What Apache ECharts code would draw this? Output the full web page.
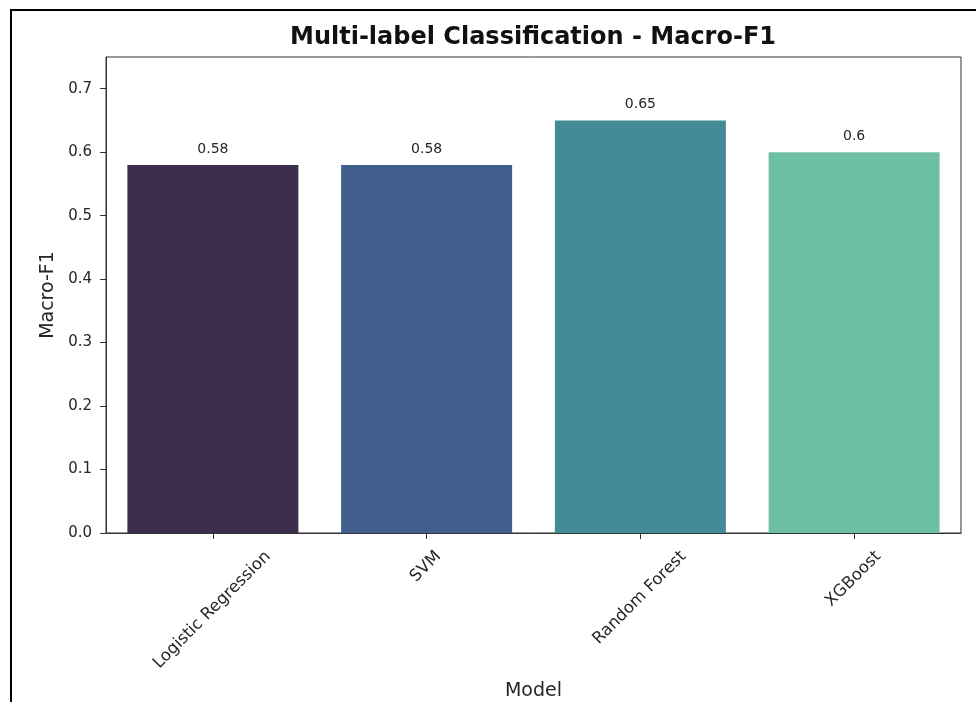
<!DOCTYPE html>
<html>
<head>
<meta charset="utf-8">
<script src="https://cdn.jsdelivr.net/npm/echarts@6/dist/echarts.min.js"></script>
<style>
  html, body { margin: 0; padding: 0; background: #ffffff; }
  #wrap { position: relative; width: 976px; height: 702px; overflow: hidden; }
  #chart { position: absolute; left: 0; top: 0; width: 976px; height: 702px; }
  #frame { position: absolute; left: 10px; top: 9px; right: -4px; bottom: -4px;
           border-left: 2px solid #000; border-top: 2px solid #000; pointer-events: none; }
</style>
</head>
<body>
<div id="wrap">
  <div id="chart"></div>
  <div id="frame"></div>
</div>
<script>
// Models compared and their macro-averaged F1 scores
const categories = ['Logistic Regression', 'SVM', 'Random Forest', 'XGBoost'];
const macroF1 = [0.58, 0.58, 0.65, 0.6];
const barColors = ['#3c2f4e', '#425e8e', '#438b96', '#6dc0a6'];
const yTicks = [0.0, 0.1, 0.2, 0.3, 0.4, 0.5, 0.6, 0.7];

const FONT = '"DejaVu Sans", sans-serif';
const XLABEL_SIZE = 16.5;
const XLABEL_H = XLABEL_SIZE * 1.17;

// Rotated category labels are centred under their ticks (box centre on the tick),
// so each label gets padding derived from its own measured width.
const ctx = document.createElement('canvas').getContext('2d');
ctx.font = XLABEL_SIZE + 'px "DejaVu Sans"';
const rich = {};
categories.forEach((c, i) => {
  const L = ctx.measureText(c).width;
  rich['c' + i] = {
    fontFamily: FONT,
    fontSize: XLABEL_SIZE,
    color: '#262626',
    padding: [Math.max(0, 0.25 * (L - XLABEL_H)), 0.5 * (L + XLABEL_H), 0, 0]
  };
});

const chart = echarts.init(document.getElementById('chart'), null, { renderer: 'canvas' });

chart.setOption({
  backgroundColor: '#ffffff',
  animation: false,
  title: {
    text: 'Multi-label Classification - Macro-F1',
    left: 528,
    top: 21,
    textAlign: 'center',
    textStyle: { fontFamily: FONT, fontSize: 24, fontWeight: 'bold', color: '#111' }
  },
  grid: {
    left: 106, right: 15, top: 57, bottom: 169,
    outerBoundsMode: 'none',
    containLabel: false,
    show: true, borderColor: '#333', borderWidth: 1, backgroundColor: 'transparent'
  },
  xAxis: {
    type: 'category',
    data: categories,
    name: 'Model',
    nameLocation: 'middle',
    nameGap: 149,
    nameTextStyle: { fontFamily: FONT, fontSize: 19, color: '#262626' },
    axisLine: { show: true, lineStyle: { color: '#333', width: 1 } },
    axisTick: { show: true, alignWithLabel: true, length: 6, lineStyle: { color: '#333' } },
    axisLabel: {
      interval: 0,
      rotate: 45,
      align: 'center',
      verticalAlign: 'top',
      margin: 15,
      formatter: (v, i) => '{c' + i + '|' + v + '}',
      rich: rich
    },
    splitLine: { show: false }
  },
  yAxis: {
    type: 'value',
    min: 0,
    max: 0.75,
    interval: 0.1,
    name: 'Macro-F1',
    nameLocation: 'middle',
    nameGap: 48,
    nameTextStyle: { fontFamily: FONT, fontSize: 19, color: '#262626' },
    axisLine: { show: true, lineStyle: { color: '#333', width: 1 } },
    axisTick: { show: true, length: 6, lineStyle: { color: '#333' }, customValues: yTicks },
    axisLabel: {
      customValues: yTicks,
      margin: 14,
      fontFamily: FONT,
      fontSize: 15,
      color: '#262626',
      formatter: v => v.toFixed(1)
    },
    splitLine: { show: false }
  },
  series: [{
    type: 'bar',
    barCategoryGap: '20%',
    data: macroF1.map((v, i) => ({ value: v, itemStyle: { color: barColors[i] } })),
    label: {
      show: true,
      position: 'top',
      distance: 9,
      fontFamily: FONT,
      fontSize: 14,
      color: '#262626',
      formatter: p => String(p.value)
    }
  }]
});
</script>
</body>
</html>
